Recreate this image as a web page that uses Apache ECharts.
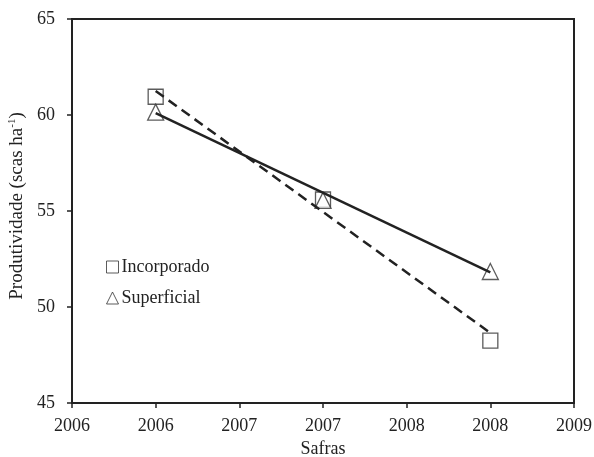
<!DOCTYPE html>
<html><head><meta charset="utf-8">
<script src="https://cdn.jsdelivr.net/npm/echarts@6/dist/echarts.min.js"></script>
<style>html,body{margin:0;padding:0;background:#fff}#c{width:594px;height:457px}</style>
</head><body><div id="c"></div>
<script>
var years = [2006.5, 2007.5, 2008.5];
var incorporado = [60.95, 55.6, 48.25];
var superficial = [60.15, 55.55, 51.85];
var trendIncX = [2006.5, 2008.5];
var trendIncY = [61.25, 48.65];
var trendSupX = [2006.5, 2008.5];
var trendSupY = [60.1, 51.8];
var xTickLabels = ['2006','2006','2007','2007','2008','2008','2009'];
var yTickLabels = ['45','50','55','60','65'];

var font = 'Liberation Serif';
var fs = 18;
function pairs(xs, ys){ return xs.map(function(x,i){return [x, ys[i]];}); }
var chart = echarts.init(document.getElementById('c'));
chart.setOption({
  animation:false,
  grid:{left:72,right:20,top:19,bottom:54,show:true,borderColor:'#222',borderWidth:2,backgroundColor:'transparent',
    containLabel:false, outerBoundsMode:'none'},
  legend:{
    orient:'vertical', left:106, top:258, padding:0, itemGap:13, itemWidth:12, itemHeight:12,
    textStyle:{fontFamily:font,fontSize:fs,color:'#222',padding:[0,0,0,-2]},
    data:[
      {name:'Incorporado',icon:'rect',itemStyle:{color:'#fff',borderColor:'#333',borderWidth:1}},
      {name:'Superficial',icon:'triangle',itemStyle:{color:'#fff',borderColor:'#333',borderWidth:1}}
    ],
    selectedMode:false
  },
  xAxis:{
    type:'value', min:2006, max:2009, interval:0.5,
    name:'Safras', nameLocation:'middle', nameGap:37,
    nameTextStyle:{fontFamily:font,fontSize:fs,color:'#222'},
    axisLine:{lineStyle:{color:'#222',width:2}},
    axisTick:{inside:false,length:5,lineStyle:{color:'#222',width:1.5}},
    axisLabel:{fontFamily:font,fontSize:fs,color:'#222',margin:14,
      formatter:function(v){ var i=Math.round((v-2006)/0.5); return xTickLabels[i]; }},
    splitLine:{show:false}
  },
  yAxis:{
    type:'value', min:45, max:65, interval:5,
    name:'Produtividade (scas ha{sup|-1})', nameLocation:'middle', nameGap:32,
    nameTextStyle:{fontFamily:font,fontSize:19,color:'#222',padding:[0,0,0,10],
      rich:{sup:{fontFamily:font,fontSize:11,color:'#222',verticalAlign:'top',padding:[0,0,7,0]}}},
    axisLine:{lineStyle:{color:'#222',width:2}},
    axisTick:{inside:false,length:5,lineStyle:{color:'#222',width:1.5}},
    axisLabel:{fontFamily:font,fontSize:fs,color:'#222',margin:17,
      formatter:function(v){ var i=Math.round((v-45)/5); return yTickLabels[i]; }},
    splitLine:{show:false}
  },
  series:[
    {name:'Incorporado',type:'scatter',data:pairs(years,incorporado),symbol:'rect',symbolSize:15,
      itemStyle:{color:'#fff',borderColor:'#333',borderWidth:1.3},z:2},
    {name:'Superficial',type:'scatter',data:pairs(years,superficial),symbol:'triangle',symbolSize:[16,16],
      itemStyle:{color:'#fff',borderColor:'#333',borderWidth:1.3},z:2},
    {name:'trendInc',type:'line',data:pairs(trendIncX,trendIncY),showSymbol:false,symbol:'none',
      lineStyle:{color:'#222',width:2.5,type:[10,6]},z:3,silent:true},
    {name:'trendSup',type:'line',data:pairs(trendSupX,trendSupY),showSymbol:false,symbol:'none',
      lineStyle:{color:'#222',width:2.5,type:'solid'},z:3,silent:true}
  ]
});
</script></body></html>
